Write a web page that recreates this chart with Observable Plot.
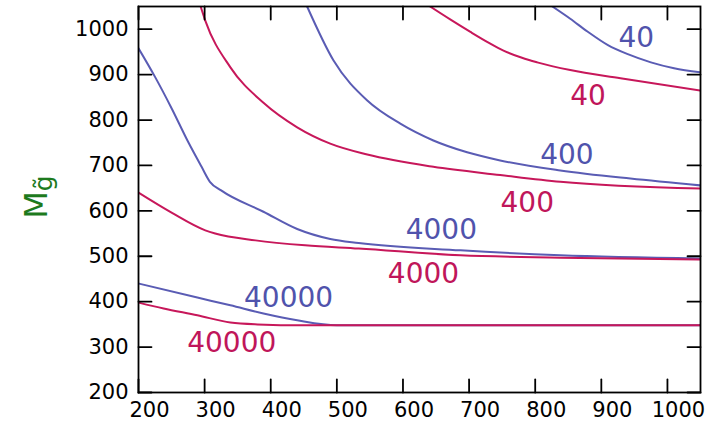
<!DOCTYPE html>
<html><head><meta charset="utf-8">
<script src="https://cdn.jsdelivr.net/npm/d3@7"></script>
<script src="https://cdn.jsdelivr.net/npm/@observablehq/plot@0.6"></script>
<style>body{margin:0;background:#fff} svg{display:block}</style>
</head><body><div id="chart"></div>
<script>
const xTicks = [200, 300, 400, 500, 600, 700, 800, 900, 1000];
const yTicks = [200, 300, 400, 500, 600, 700, 800, 900, 1000];

// blue family
const blue40 = [[826,1050],[853,1023],[879,995],[910,965],[940,945],[975,927],[1010,914],[1050,905]];
const blue400 = [[455,1050],[495,931],[546,843],[596,792],[646,755],[697,729],[747,711],[838,689],[944,671],[1050,656]];
const blue4000 = [[200,958],[225,895],[250,826],[275,752],[295,698],[308,664],[325,645],[389,598],[440,560],[490,538],[533,529],[687,513],[838,502],[1050,495]];
const blue40000 = [[200,440],[289,409],[339,392],[389,374],[440,359],[500,348],[700,348],[1050,348]];

// red family
const red40 = [[641,1050],[672,1021],[702,994],[730,970],[752,953],[780,937],[803,927],[853,910],[929,892],[1050,865]];
const red400 = [[294,1050],[301,1019],[339,916],[389,838],[440,784],[490,748],[546,724],[646,697],[747,679],[838,664],[1050,649]];
const red4000 = [[200,640],[250,596],[301,557],[316,550],[377,535],[452,524],[533,517],[687,502],[838,497],[1050,493]];
const red40000 = [[200,398],[238,385],[289,370],[339,354],[380,350],[450,348],[700,348],[1050,348]];

const labelText = ["40", "40", "400", "400", "4000", "4000", "40000", "40000"];
const labelFamily = ["blue", "red", "blue", "red", "blue", "red", "blue", "red"];
const labelX = [953, 880, 848, 788, 658, 631, 427, 341];
const labelY = [980, 852, 724, 618, 557, 460, 409, 308];

const BLUE = "#5a5cb4", RED = "#c7175a";
const BLUE_T = "#5053ac", RED_T = "#c0165a";

const curves = {blue40, blue400, blue4000, blue40000, red40, red400, red4000, red40000};
const rows = [];
for (const [name, pts] of Object.entries(curves)) {
  for (const [x, y] of pts) rows.push({curve: name, family: name.startsWith("blue") ? "blue" : "red", x, y});
}
const labels = labelText.map((t, i) => ({text: t, family: labelFamily[i], x: labelX[i], y: labelY[i]}));

const tickShape = {draw(ctx, l) { ctx.moveTo(0, 0); ctx.lineTo(0, -l); }};
const TL = 13, TW = 1.8;

const plot = Plot.plot({
  width: 708, height: 428,
  marginLeft: 138, marginRight: 8, marginTop: 6, marginBottom: 36,
  style: {fontFamily: "DejaVu Sans", fontSize: "21px", background: "white", color: "black"},
  x: {domain: [200, 1050], label: null},
  y: {domain: [200, 1050], label: null},
  marks: [
    Plot.line(rows.filter(d => d.family === "blue"), {x: "x", y: "y", z: "curve", stroke: BLUE, strokeWidth: 2, curve: "monotone-x", clip: true}),
    Plot.line(rows.filter(d => d.family === "red"), {x: "x", y: "y", z: "curve", stroke: RED, strokeWidth: 2, curve: "monotone-x", clip: true}),
    Plot.text(labels.filter(d => d.family === "blue"), {x: "x", y: "y", text: "text", fill: BLUE_T, fontSize: 28}),
    Plot.text(labels.filter(d => d.family === "red"), {x: "x", y: "y", text: "text", fill: RED_T, fontSize: 28}),
    // inward tick marks
    Plot.vector(xTicks, {x: d => d, frameAnchor: "bottom", rotate: 0, length: TL, anchor: "start", shape: tickShape, stroke: "black", strokeWidth: TW}),
    Plot.vector(xTicks, {x: d => d, frameAnchor: "top", rotate: 180, length: TL, anchor: "start", shape: tickShape, stroke: "black", strokeWidth: TW}),
    Plot.vector(yTicks, {y: d => d, frameAnchor: "left", rotate: 90, length: TL, anchor: "start", shape: tickShape, stroke: "black", strokeWidth: TW}),
    Plot.vector(yTicks, {y: d => d, frameAnchor: "right", rotate: -90, length: TL, anchor: "start", shape: tickShape, stroke: "black", strokeWidth: TW}),
    // tick labels
    Plot.axisX(xTicks, {anchor: "bottom", tickSize: 0, tickPadding: 10, dx: 11, label: null, fontSize: 21, tickFormat: d => String(d)}),
    Plot.axisY(yTicks, {anchor: "left", tickSize: 0, tickPadding: 10, label: null, fontSize: 21, tickFormat: d => String(d)}),
    Plot.frame({stroke: "black", strokeWidth: TW})
  ]
});

const svg = d3.select(plot);
const t = svg.append("text")
  .attr("transform", "translate(47,197) rotate(-90)")
  .attr("text-anchor", "middle")
  .attr("fill", "#1d7a1d")
  .attr("font-family", "DejaVu Sans")
  .attr("font-size", 32);
t.append("tspan").text("M");
t.append("tspan").attr("dy", 5).attr("font-size", 25).text("g\u0303");
document.getElementById("chart").appendChild(plot);
</script>
</body></html>
